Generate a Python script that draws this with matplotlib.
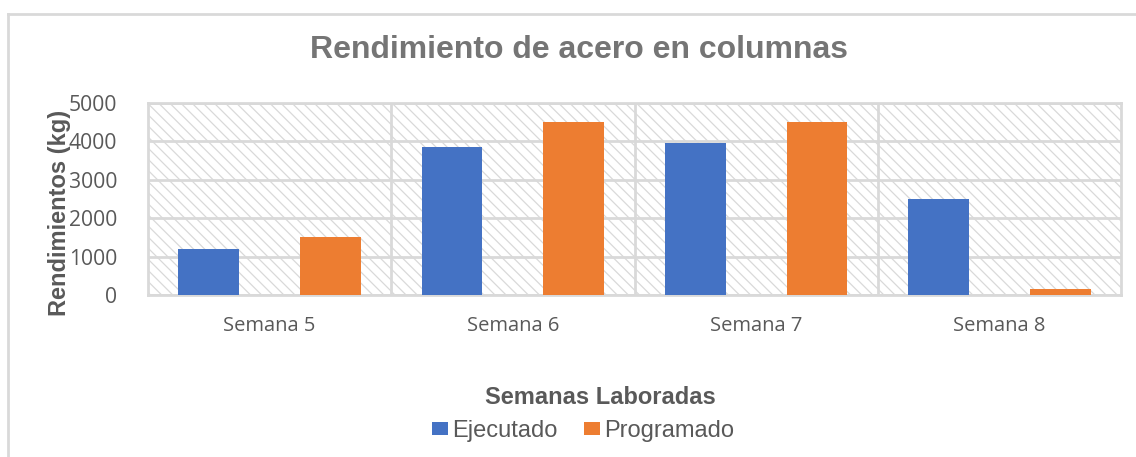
import matplotlib.pyplot as plt
from matplotlib.patches import Rectangle
from matplotlib.lines import Line2D
import numpy as np

semanas = ['Semana 5', 'Semana 6', 'Semana 7', 'Semana 8']
ejecutado = [1200, 3850, 3950, 2500]
programado = [1500, 4500, 4500, 150]
y_ticks = [0, 1000, 2000, 3000, 4000, 5000]

gris = '#595959'
gris_titulo = '#757575'
linea = '#d9d9d9'
azul = '#4472C4'
naranja = '#ED7D31'

plt.rcParams['hatch.linewidth'] = 0.9

fig = plt.figure(figsize=(11.36, 4.57), dpi=100)
ax = fig.add_axes([0.1303, 0.3545, 0.8565, 0.4201])

# fondo rayado del area de trazado
fondo = Rectangle((0, 0), 1, 1, transform=ax.transAxes, facecolor='white',
                  edgecolor=linea, hatch='\\\\\\', linewidth=0, zorder=0)
ax.add_patch(fondo)

x = np.arange(len(semanas))
ax.bar(x - 0.25, ejecutado, width=0.25, color=azul, zorder=3, label='Ejecutado')
ax.bar(x + 0.25, programado, width=0.25, color=naranja, zorder=3, label='Programado')

ax.set_xlim(-0.5, 3.5)
ax.set_ylim(0, 5000)
ax.set_yticks(y_ticks)
ax.set_xticks(x)
ax.set_xticklabels(semanas)
ax.set_xticks(x[:-1] + 0.5, minor=True)
ax.tick_params(axis='both', which='both', length=0)
ax.tick_params(axis='y', pad=22, labelsize=15.2, labelcolor=gris)
ax.tick_params(axis='x', pad=15, labelsize=14.5, labelcolor=gris)
for lbl in ax.get_xticklabels() + ax.get_yticklabels():
    lbl.set_fontfamily('Open Sans')

ax.yaxis.grid(True, color=linea, linewidth=2, zorder=1)
ax.xaxis.grid(True, which='minor', color=linea, linewidth=2, zorder=1)
ax.xaxis.grid(False, which='major')
for s in ax.spines.values():
    s.set_color(linea)
    s.set_linewidth(2)

fig.text(579 / 1136, 1 - 58 / 457, 'Rendimiento de acero en columnas', ha='center', va='baseline',
         fontsize=23, fontweight='bold', color=gris_titulo, family='Liberation Sans')
fig.text(0.0528, 1 - 213 / 457, 'Rendimientos (kg)', ha='center', va='center', rotation=90,
         fontsize=17, fontweight='bold', color=gris, family='Liberation Sans')
fig.text(0.5283, 1 - 397 / 457, 'Semanas Laboradas', ha='center', va='center',
         fontsize=17, fontweight='bold', color=gris, family='Liberation Sans')

leg = fig.legend(loc='center', bbox_to_anchor=(583 / 1136, 1 - 431 / 457), ncol=2, frameon=False,
                 prop={'family': 'Liberation Sans', 'size': 17},
                 handlelength=0.68, handleheight=0.48, handletextpad=0.15, columnspacing=1.15,
                 borderpad=0)
for t in leg.get_texts():
    t.set_color(gris)

# borde exterior del grafico
fig.add_artist(Line2D([7.5 / 1136, 7.5 / 1136], [0, 1 - 13.5 / 457], transform=fig.transFigure,
                      color=linea, linewidth=2))
fig.add_artist(Line2D([7.5 / 1136, 1], [1 - 13.5 / 457, 1 - 13.5 / 457], transform=fig.transFigure,
                      color=linea, linewidth=2))

fig.savefig('out.png', dpi=100)
